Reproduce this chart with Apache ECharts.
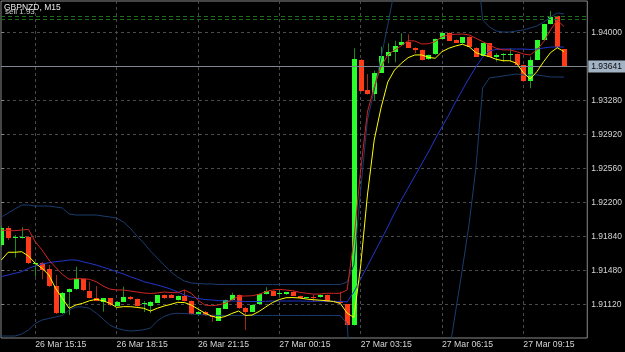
<!DOCTYPE html>
<html><head><meta charset="utf-8">
<script src="https://cdn.jsdelivr.net/npm/echarts@6/dist/echarts.min.js"></script>
<style>html,body{margin:0;padding:0;background:#000;}#c{width:625px;height:352px;}</style>
</head><body><div id="c"></div>
<script>
const symbolName = 'GBPNZD, M15';
const sellText = 'sell 1.93';
const xTickBars = [5, 17, 29, 41, 53, 65, 77];
const xTickLabels = ['26 Mar 15:15','26 Mar 18:15','26 Mar 21:15','27 Mar 00:15','27 Mar 03:15','27 Mar 06:15','27 Mar 09:15'];
const yGridValues = [1.9112,1.9148,1.9184,1.9220,1.9256,1.9292,1.9328,1.9364,1.9400];
const yLabelValues = [1.9112,1.9148,1.9184,1.9220,1.9256,1.9292,1.9328,1.9400];
const lastPrice = 1.93641;
const greenLevels = [1.94177, 1.94145];

const opens = [1.91749,1.91932,1.91823,1.91823,1.91831,1.91548,1.91561,1.91491,1.91314,1.91025,
1.91247,1.91282,1.91385,1.91261,1.91184,1.91148,1.91184,1.91105,1.91148,1.91201,
1.91176,1.91127,1.91105,1.91137,1.91219,1.91214,1.91166,1.91208,1.91155,1.91017,
1.91042,1.91007,1.90946,1.91074,1.91166,1.91219,1.91084,1.91042,1.91120,1.91229,
1.91261,1.91226,1.91226,1.91254,1.91208,1.91184,1.91194,1.91194,1.91219,1.91155,
1.91145,1.91120,1.90901,1.93711,1.93392,1.93350,1.93576,1.93756,1.93792,1.93866,
1.93905,1.93841,1.93817,1.93718,1.93771,1.93930,1.94000,1.93923,1.93888,1.93958,
1.93841,1.93753,1.93888,1.93739,1.93767,1.93771,1.93774,1.93658,1.93491,1.93711,
1.93923,1.94092,1.94177,1.93824];
const closes = [1.91926,1.91820,1.91837,1.91834,1.91555,1.91558,1.91484,1.91314,1.91025,1.91243,
1.91282,1.91389,1.91272,1.91187,1.91158,1.91184,1.91110,1.91148,1.91201,1.91173,
1.91102,1.91134,1.91141,1.91216,1.91184,1.91192,1.91208,1.91155,1.91017,1.91042,
1.91004,1.90982,1.91078,1.91166,1.91219,1.91078,1.91042,1.91113,1.91229,1.91264,
1.91211,1.91237,1.91247,1.91211,1.91190,1.91194,1.91184,1.91219,1.91148,1.91145,
1.91137,1.90901,1.93721,1.93385,1.93350,1.93576,1.93753,1.93795,1.93862,1.93901,
1.93841,1.93817,1.93711,1.93764,1.93933,1.94000,1.93915,1.93894,1.93951,1.93852,
1.93746,1.93888,1.93746,1.93764,1.93771,1.93779,1.93658,1.93491,1.93711,1.93923,
1.94092,1.94170,1.93845,1.93641];
const highs = [1.91950,1.91950,1.91855,1.91937,1.91844,1.91563,1.91569,1.91537,1.91431,1.91251,
1.91288,1.91519,1.91389,1.91360,1.91314,1.91187,1.91187,1.91155,1.91307,1.91208,
1.91182,1.91155,1.91155,1.91219,1.91224,1.91229,1.91214,1.91272,1.91160,1.91049,
1.91049,1.91012,1.91081,1.91171,1.91243,1.91224,1.91092,1.91118,1.91235,1.91301,
1.91267,1.91272,1.91251,1.91261,1.91214,1.91198,1.91219,1.91224,1.91224,1.91160,
1.91254,1.91123,1.93835,1.93721,1.93562,1.93597,1.93852,1.93888,1.93915,1.93994,
1.93983,1.93845,1.93822,1.93769,1.93939,1.94004,1.94004,1.93928,1.93954,1.93962,
1.93845,1.93891,1.93891,1.93782,1.93782,1.93835,1.93777,1.93661,1.93746,1.93926,
1.94095,1.94230,1.94180,1.93827];
const lows = [1.91728,1.91802,1.91614,1.91818,1.91548,1.91415,1.91385,1.91304,1.91017,1.91017,
1.91007,1.91272,1.91261,1.91182,1.91155,1.91042,1.91102,1.91102,1.91145,1.91166,
1.91097,1.91039,1.91028,1.91134,1.91176,1.91187,1.91160,1.91150,1.91012,1.90996,
1.90996,1.90936,1.90943,1.91070,1.91160,1.91070,1.90848,1.91039,1.91113,1.91224,
1.91208,1.91211,1.91219,1.91208,1.91182,1.91180,1.91148,1.91190,1.91145,1.91139,
1.91131,1.90895,1.90895,1.93377,1.93345,1.93286,1.93573,1.93676,1.93686,1.93862,
1.93838,1.93782,1.93705,1.93714,1.93767,1.93926,1.93912,1.93891,1.93883,1.93848,
1.93742,1.93750,1.93742,1.93693,1.93693,1.93693,1.93654,1.93480,1.93411,1.93707,
1.93919,1.94089,1.93841,1.93636];

const redLine = [1.91908,1.91901,1.91901,1.91908,1.91915,1.91784,1.91696,1.91590,1.91513,1.91438,
1.91385,1.91392,1.91392,1.91385,1.91360,1.91314,1.91282,1.91272,1.91272,1.91261,
1.91251,1.91240,1.91235,1.91240,1.91251,1.91245,1.91243,1.91272,1.91237,1.91166,
1.91113,1.91105,1.91113,1.91131,1.91166,1.91208,1.91208,1.91211,1.91226,1.91254,
1.91272,1.91279,1.91272,1.91264,1.91247,1.91237,1.91229,1.91229,1.91237,1.91237,
1.91237,1.91272,1.91802,1.92544,1.93159,1.93424,1.93640,1.93764,1.93817,1.93862,
1.93915,1.93912,1.93880,1.93883,1.93905,1.93958,1.93976,1.93983,1.93986,1.93976,
1.93941,1.93905,1.93870,1.93835,1.93817,1.93817,1.93799,1.93774,1.93764,1.93817,
1.93905,1.94029,1.94135,1.94064];
const yellowLine = [1.91590,1.91672,1.91672,1.91678,1.91632,1.91555,1.91502,1.91431,1.91290,1.91184,
1.91078,1.91113,1.91131,1.91158,1.91173,1.91158,1.91131,1.91088,1.91095,1.91095,
1.91088,1.91078,1.91049,1.91078,1.91102,1.91120,1.91141,1.91139,1.91113,1.91070,
1.91028,1.90996,1.90975,1.90991,1.91023,1.91049,1.91002,1.91007,1.91044,1.91092,
1.91139,1.91171,1.91190,1.91192,1.91187,1.91176,1.91169,1.91164,1.91158,1.91150,
1.91129,1.91028,1.90980,1.91526,1.92279,1.92862,1.93202,1.93477,1.93604,1.93676,
1.93735,1.93764,1.93764,1.93739,1.93729,1.93799,1.93835,1.93859,1.93877,1.93852,
1.93788,1.93764,1.93746,1.93718,1.93703,1.93703,1.93676,1.93576,1.93509,1.93587,
1.93693,1.93788,1.93841,1.93799];
const blueLine = [1.91413,1.91431,1.91449,1.91466,1.91502,1.91526,1.91548,1.91561,1.91572,1.91579,
1.91590,1.91590,1.91572,1.91555,1.91537,1.91513,1.91491,1.91466,1.91442,1.91413,
1.91389,1.91360,1.91343,1.91325,1.91304,1.91282,1.91251,1.91219,1.91198,1.91182,
1.91171,1.91166,1.91160,1.91155,1.91155,1.91153,1.91150,1.91150,1.91150,1.91152,
1.91155,1.91155,1.91155,1.91155,1.91155,1.91153,1.91153,1.91153,1.91153,1.91152,
1.91150,1.91145,1.91251,1.91389,1.91526,1.91664,1.91802,1.91940,1.92088,1.92226,
1.92353,1.92481,1.92608,1.92735,1.92873,1.93000,1.93127,1.93265,1.93392,1.93520,
1.93636,1.93742,1.93806,1.93822,1.93827,1.93827,1.93827,1.93827,1.93822,1.93827,
1.93838,1.93848,1.93848,1.93848];
const bandUpper = [1.92046,1.92088,1.92131,1.92173,1.92173,1.92162,1.92162,1.92162,1.92152,1.92141,
1.92078,1.92067,1.92067,1.92067,1.92067,1.92056,1.92046,1.92035,1.91993,1.91929,
1.91844,1.91770,1.91685,1.91611,1.91537,1.91463,1.91410,1.91367,1.91346,1.91341,
1.91336,1.91336,1.91330,1.91330,1.91330,1.91330,1.91330,1.91330,1.91330,1.91330,
1.91330,1.91330,1.91330,1.91330,1.91330,1.91330,1.91330,1.91330,1.91330,1.91330,
1.91330,1.91357,1.91537,1.92332,1.93074,1.93392,1.93732,1.94082,1.94453,1.94771,
1.94983,1.95142,1.95248,1.95322,1.95354,1.95354,1.95322,1.95248,1.95142,1.95004,
1.94834,1.94135,1.94060,1.94018,1.94007,1.94007,1.94018,1.94029,1.94050,1.94071,
1.94113,1.94166,1.94209,1.94198];
const bandLower = [1.90784,1.90784,1.90784,1.90805,1.90848,1.90917,1.90954,1.90970,1.90986,1.91002,
1.91060,1.91092,1.91092,1.91078,1.91028,1.90964,1.90901,1.90866,1.90848,1.90837,
1.90842,1.90850,1.90869,1.90943,1.90991,1.91017,1.91025,1.91023,1.91017,1.91012,
1.91007,1.91002,1.91002,1.91002,1.91002,1.91002,1.91002,1.91002,1.91002,1.91002,
1.91002,1.91002,1.91002,1.91002,1.91002,1.91002,1.91002,1.91002,1.91002,1.91002,
1.91002,1.90911,1.89893,1.89681,1.89522,1.89416,1.89363,1.89363,1.89416,1.89522,
1.89628,1.89787,1.89947,1.90106,1.90265,1.90477,1.90583,1.91039,1.91494,1.91972,
1.92565,1.93414,1.93520,1.93530,1.93541,1.93552,1.93562,1.93552,1.93552,1.93552,
1.93541,1.93530,1.93530,1.93530];

const FONT = '"Liberation Sans", Arial, sans-serif';
const UP = '#2bff2b', DN = '#ff3b1a', WICK_UP = '#1f8a1f', WICK_DN = '#a02a14';

const candleData = opens.map((o, i) => [i, o, closes[i], lows[i], highs[i]]);
const pair = arr => arr.map((v, i) => [i, v]);

function renderCandle(params, api) {
  const i = api.value(0), o = api.value(1), c = api.value(2), l = api.value(3), h = api.value(4);
  const pO = api.coord([i, o]), pC = api.coord([i, c]), pL = api.coord([i, l]), pH = api.coord([i, h]);
  const up = c >= o;
  const cx = Math.round(pO[0]);
  const top = Math.min(pO[1], pC[1]), bot = Math.max(pO[1], pC[1]);
  const yTop = Math.round(top);
  const hgt = Math.max(1, Math.round(bot) - yTop);
  return {
    type: 'group',
    children: [
      { type: 'line', shape: { x1: cx + 0.5, y1: pH[1], x2: cx + 0.5, y2: pL[1] },
        style: { stroke: up ? WICK_UP : WICK_DN, lineWidth: 1 } },
      { type: 'rect', shape: { x: cx - 2, y: yTop, width: 5, height: hgt },
        style: { fill: up ? UP : DN } }
    ]
  };
}

function lineSeries(name, data, color) {
  return { name, type: 'line', data: pair(data), showSymbol: false, symbol: 'none',
    lineStyle: { color, width: 1 }, itemStyle: { color }, clip: true, z: 5, silent: true, animation: false };
}

const chart = echarts.init(document.getElementById('c'), null, { renderer: 'canvas' });
chart.setOption({
  backgroundColor: '#000',
  animation: false,
  grid: { left: 1, right: 37, top: 1, bottom: 14, show: true, borderColor: '#8a8a8a', borderWidth: 1, backgroundColor: '#000' },
  xAxis: {
    type: 'value', min: -0.053, max: 86.43,
    axisLine: { show: false },
    axisTick: { show: false, customValues: xTickBars },
    axisLabel: { customValues: xTickBars, formatter: v => xTickLabels[xTickBars.indexOf(v)] || '',
      color: '#d4d4d4', fontFamily: FONT, fontSize: 8.7, align: 'left', margin: 2 },
    splitLine: { show: true, lineStyle: { color: '#4a4a4a', type: [3, 3], width: 1 } }
  },
  yAxis: {
    type: 'value', position: 'right', min: 1.90763, max: 1.94336, scale: true,
    axisLine: { show: false },
    axisTick: { show: true, length: 3, customValues: yGridValues, lineStyle: { color: '#8a8a8a' } },
    axisLabel: { customValues: yLabelValues, formatter: v => v.toFixed(5), hideOverlap: false,
      color: '#d4d4d4', fontFamily: FONT, fontSize: 8.5, margin: 4 },
    splitLine: { show: true, lineStyle: { color: '#4a4a4a', type: [3, 3], width: 1 } }
  },
  graphic: [
    { type: 'text', left: 4, top: 3, z: 100, style: { text: symbolName, fill: '#e8e8e8', font: '8.5px ' + FONT } },
    { type: 'text', left: 5, top: 8, z: 99, style: { text: sellText, fill: '#d0d0d0', font: '8px ' + FONT } }
  ],
  series: [
    { name: 'levels', type: 'line', data: [], silent: true, z: 1,
      markLine: { symbol: 'none', silent: true, animation: false, precision: 5,
        data: [
          { yAxis: greenLevels[0], lineStyle: { color: '#1f6e1f', type: [4, 3], width: 1 }, label: { show: false } },
          { yAxis: greenLevels[1], lineStyle: { color: '#1f6e1f', type: [4, 3], width: 1 }, label: { show: false } },
          { yAxis: lastPrice, lineStyle: { color: '#7f8790', type: 'solid', width: 1 },
            label: { show: true, position: 'end', distance: 1, formatter: lastPrice.toFixed(5),
              color: '#0a0a0a', backgroundColor: '#a3b3c6', padding: [2, 3, 1, 3], fontFamily: FONT, fontSize: 8.5 } }
        ] } },
    { name: 'candles', type: 'custom', renderItem: renderCandle, data: candleData,
      encode: { x: 0, y: [1, 2, 3, 4] }, clip: true, z: 3, silent: true },
    lineSeries('bandUpper', bandUpper, '#1b3c6e'),
    lineSeries('bandLower', bandLower, '#1b3c6e'),
    lineSeries('blue', blueLine, '#2236cc'),
    lineSeries('red', redLine, '#d02424'),
    lineSeries('yellow', yellowLine, '#ffff00')
  ]
});
</script>
</body></html>
